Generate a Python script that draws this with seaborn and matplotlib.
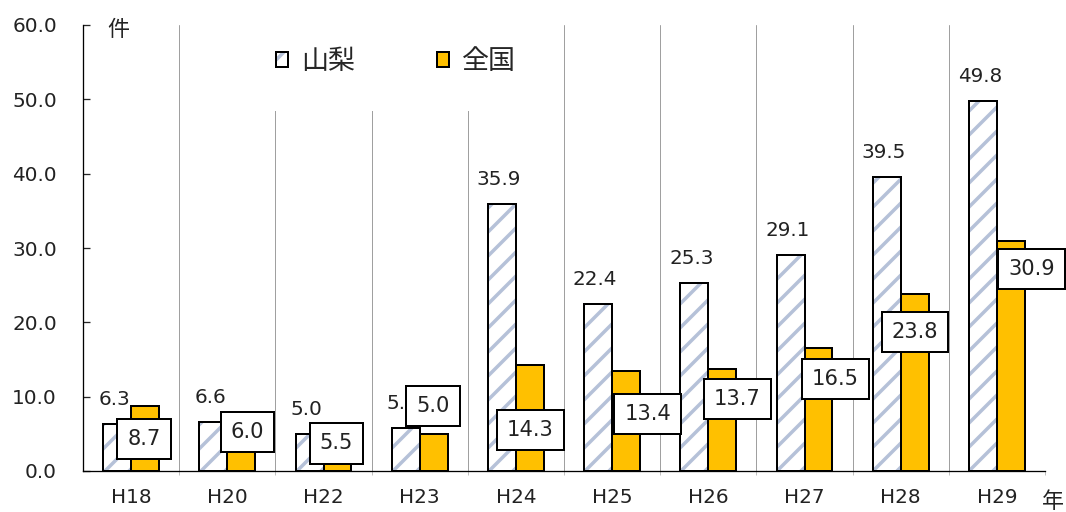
import matplotlib
matplotlib.use("Agg")
import matplotlib.pyplot as plt
from matplotlib.patches import Patch, Rectangle
from matplotlib.legend_handler import HandlerTuple
import numpy as np
import pandas as pd
import seaborn as sns

# data
years = ["H18", "H20", "H22", "H23", "H24", "H25", "H26", "H27", "H28", "H29"]
yamanashi = [6.3, 6.6, 5.0, 5.8, 35.9, 22.4, 25.3, 29.1, 39.5, 49.8]
zenkoku = [8.7, 6.0, 5.5, 5.0, 14.3, 13.4, 13.7, 16.5, 23.8, 30.9]

# where the boxed 全国 labels sit (offset from category centre, height in data units)
box_dx = [0.135, 0.21, 0.135, 0.14, 0.15, 0.37, 0.30, 0.32, 0.15, 0.36]
box_y = [4.3, 5.2, 3.7, 8.8, 5.5, 7.7, 9.7, 12.4, 18.7, 27.2]

series = ["山梨", "全国"]
df = pd.DataFrame({
    "year": years * 2,
    "value": yamanashi + zenkoku,
    "area": [series[0]] * len(years) + [series[1]] * len(years),
})

sns.set_style("white")
plt.rcParams["font.family"] = ["DejaVu Sans", "Noto Sans CJK JP"]
plt.rcParams["hatch.linewidth"] = 3.5

stripe = "#B5C1D8"
orange = "#FFC000"

DPI = 72
fig = plt.figure(figsize=(1066 / DPI, 512 / DPI), dpi=DPI)
ax = fig.add_axes([83 / 1066, 41 / 512, 962 / 1066, 446 / 512])

width = 0.58
sns.barplot(data=df, x="year", y="value", hue="area", order=years,
            hue_order=series, palette=["white", orange], width=width,
            dodge=True, edgecolor="black", linewidth=2, legend=False,
            saturation=1, ax=ax, zorder=2)

# hatched 山梨 bars: stripes in light blue, black outline on top
for bar in ax.containers[0]:
    bar.set_facecolor("white")
    bar.set_edgecolor(stripe)
    bar.set_hatch("/")
    bar.set_linewidth(0)
    ax.add_patch(Rectangle(bar.get_xy(), bar.get_width(), bar.get_height(),
                           fill=False, edgecolor="black", linewidth=2, zorder=3))

ax.set_ylim(0, 60)
ax.set_xlim(-0.5, len(years) - 0.5)
ax.set_yticks(np.arange(0, 61, 10))
ax.set_yticklabels([f"{v:.1f}" for v in np.arange(0, 61, 10)])
ax.tick_params(axis="y", direction="in", length=7, width=1.3, pad=26,
               labelsize=20, labelcolor="#222222", left=True)
ax.tick_params(axis="x", which="major", length=0, pad=17, labelsize=20,
               labelcolor="#222222")
ax.set_xticks(np.arange(0.5, len(years)), minor=True)
ax.tick_params(axis="x", which="minor", direction="out", length=4,
               color="#999999", bottom=True)
ax.grid(True, axis="x", which="minor", color="#A0A0A0", linewidth=1)
ax.grid(False, axis="y")
ax.set_axisbelow(True)
ax.set_xlabel("")
ax.set_ylabel("")
for side in ["top", "right"]:
    ax.spines[side].set_visible(False)
for side in ["left", "bottom"]:
    ax.spines[side].set_color("black")
    ax.spines[side].set_linewidth(1.3)

off = width / 4
for i, v in enumerate(yamanashi):
    ax.annotate(f"{v:.1f}", (i - off, v), xytext=(-3, 15),
                textcoords="offset points", ha="center", va="bottom",
                fontsize=20, color="#222222", zorder=4)

for i, v in enumerate(zenkoku):
    ax.text(i + box_dx[i], box_y[i], f"{v:.1f}", ha="center", va="center",
            fontsize=21, color="#222222", zorder=5,
            bbox=dict(boxstyle="square,pad=0.48", facecolor="white",
                      edgecolor="black", linewidth=2))

h_yama = (Patch(facecolor="white", edgecolor=stripe, hatch="/", linewidth=0),
          Patch(fill=False, edgecolor="black", linewidth=2))
h_zen = Patch(facecolor=orange, edgecolor="black", linewidth=2)
leg = ax.legend([h_yama, h_zen], series, loc="center",
                bbox_to_anchor=((396 - 83) / 962, (471 - 62) / 446),
                ncol=2, fontsize=27, handlelength=0.45, handleheight=0.45,
                handletextpad=0.5, columnspacing=3.0, borderpad=1.3,
                frameon=True, fancybox=False, framealpha=1,
                handler_map={tuple: HandlerTuple(ndivide=1)})
leg.get_frame().set_edgecolor("white")
leg.get_frame().set_facecolor("white")

fig.text(118 / 1066, 1 - 30 / 512, "件", ha="center", va="center",
         fontsize=22, color="#222222")
fig.text(1053 / 1066, 1 - 502 / 512, "年", ha="center", va="center",
         fontsize=22, color="#222222")

fig.savefig("out.png", dpi=DPI, facecolor="white")
